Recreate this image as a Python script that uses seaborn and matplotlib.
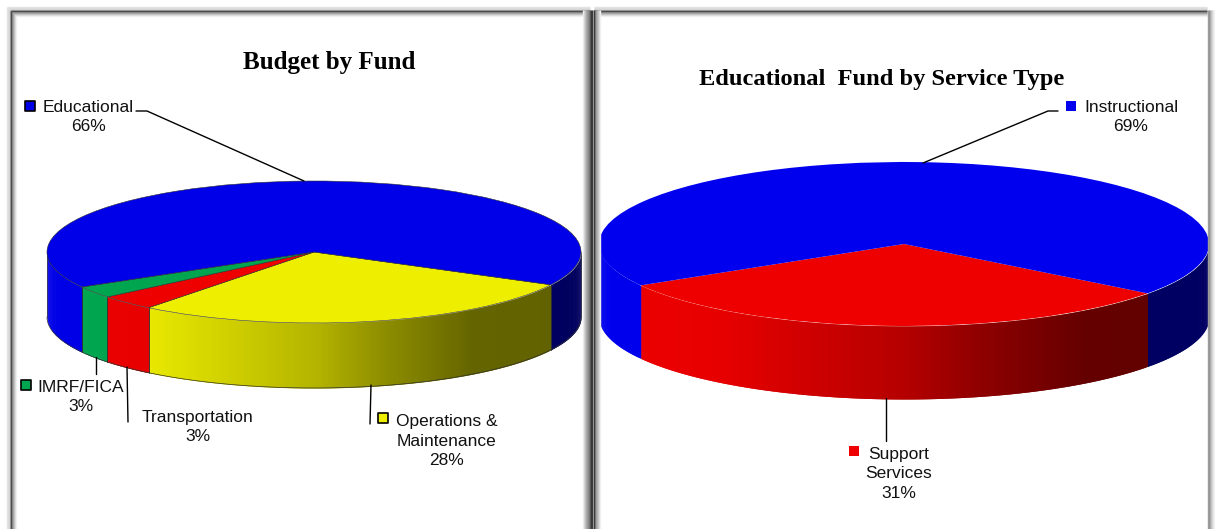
# coding = utf-8
import numpy as np
import matplotlib
matplotlib.use("Agg")
import matplotlib.pyplot as plt
import seaborn as sns

W, H = 1215, 529

fund_names = ["Operations &\nMaintenance", "Transportation", "IMRF/FICA", "Educational"]
fund_share = [28.0, 3.45, 2.7, 65.85]
fund_colors = ["#EEEE00", "#EE0000", "#00A550", "#0000E8"]

service_names = ["Support\nServices", "Instructional"]
service_share = [31.3, 68.7]
service_colors = ["#EE0000", "#0000EE"]

sns.set_theme(style="white")
plt.rcParams["font.family"] = ["Liberation Sans", "DejaVu Sans"]

fig = plt.figure(figsize=(W / 100, H / 100), dpi=100, facecolor="white")


def shade(c):
    # wall gets darker going left to right
    return np.interp(c, [-1, -0.6, 0, 0.25, 0.6, 1], [1.0, 0.97, 0.76, 0.6, 0.42, 0.41])


def pie3d(values, colors, cx, cy, rx, ry, depth, start, outline):
    ax = fig.add_axes([0, 0, 1, 1], facecolor="none")
    edge = dict(edgecolor="#303030", linewidth=0.4) if outline else dict(linewidth=0)
    wedges, _ = ax.pie(values, colors=colors, startangle=start, counterclock=False,
                       radius=1, wedgeprops=edge)
    ax.set_aspect("auto")
    ax.set_xlim(-cx / rx, (W - cx) / rx)
    ax.set_ylim(-(H - cy) / ry, cy / ry)
    d = depth / ry
    for w, col in zip(wedges, colors):
        base = np.array(matplotlib.colors.to_rgb(col))
        flat = base[1] > 0.5 and base[0] < 0.2  # green wall stays flat
        # front half of the cylinder only
        for lo, hi in [(w.theta1, w.theta2), (w.theta1 + 360, w.theta2 + 360),
                       (w.theta1 - 360, w.theta2 - 360)]:
            a1, a2 = max(lo, -180), min(hi, 0)
            if a2 <= a1:
                continue
            ang = np.radians(np.linspace(a1, a2, max(int(a2 - a1) * 2, 2) + 1))
            # strips overlap the next one so no seams show
            for i in range(len(ang) - 1, 0, -1):
                part = ang[max(i - 2, 0):i + 1]
                x = np.cos(part)
                y = np.sin(part)
                s = 1.0 if flat else shade(np.cos(ang[i - 1:i + 1]).mean())
                c = tuple(base * s)
                ax.fill_between(x, y - d, y, color=c, linewidth=0, zorder=0.5)
            if outline:
                x = np.cos(ang)
                y = np.sin(ang)
                ax.plot(x, y - d, color="#303030", lw=0.5, zorder=0.6)
                for e in (ang[0], ang[-1]):
                    ax.plot([np.cos(e)] * 2, [np.sin(e), np.sin(e) - d],
                            color="#303030", lw=0.5, zorder=0.6)
    ax.axis("off")
    return ax


pie3d(fund_share, fund_colors, 314, 252, 267, 71, 65, -27.5, True)
pie3d(service_share, service_colors, 904, 244, 305, 82, 73, -37, False)

over = fig.add_axes([0, 0, 1, 1], facecolor="none")
over.set_xlim(0, W)
over.set_ylim(H, 0)
over.axis("off")

# panel bevels, one pixel per gray step
top_steps = [(6, "#E4E4E4"), (7, "#DCDCDC"), (8, "#E0E0E0"), (9, "#A8A8A8"), (10, "#404040"),
             (11, "#808080"), (12, "#A0A0A0"), (13, "#BEBEBE"), (14, "#D8D8D8"), (15, "#F0F0F0")]
for off, g in top_steps:
    over.plot([off + 1, 590], [off + 1, off + 1], color=g, lw=1, solid_capstyle="butt")
    over.plot([off + 1, off + 1], [off + 1, H], color=g, lw=1, solid_capstyle="butt")
    over.plot([594, 1207], [off + 1, off + 1], color=g, lw=1, solid_capstyle="butt")
for x, g in [(582, "#F0F0F0"), (583, "#D8D8D8"), (584, "#C4C4C4"), (585, "#B0B0B0"), (586, "#A0A0A0"),
             (587, "#909090"), (588, "#808080"), (589, "#606060"), (590, "#404040"), (591, "#202020"),
             (592, "#B0B0B0"), (593, "#303030"), (594, "#707070"), (595, "#A0A0A0"), (596, "#B0B0B0"),
             (597, "#C4C4C4"), (598, "#D8D8D8"), (599, "#F0F0F0"),
             (1207, "#A0A0A0"), (1208, "#909090"), (1209, "#A8A8A8"), (1210, "#C0C0C0"),
             (1211, "#D4D4D4"), (1212, "#E4E4E4"), (1213, "#F0F0F0")]:
    over.plot([x + 0.5, x + 0.5], [10, H], color=g, lw=1, solid_capstyle="butt")

over.text(329, 62, "Budget by Fund", family="Liberation Serif", weight="bold",
          fontsize=18, ha="center", va="center", color="black")
over.text(882, 80, "Educational  Fund by Service Type", family="Liberation Serif", weight="bold",
          fontsize=17.6, ha="center", va="center", color="black")


def label(name, share, x, y):
    over.text(x, y, f"{name}\n{share:.0f}%", fontsize=12.5, ha="center", va="center",
              multialignment="center", linespacing=1.35, color="#111111")


label(fund_names[3], fund_share[3], 88, 117)
label(fund_names[2], fund_share[2], 81, 397)
label(fund_names[1], fund_share[1], 198, 427)
label(fund_names[0], fund_share[0], 447, 441)
label(service_names[1], service_share[1], 1131, 117)
label(service_names[0], service_share[0], 899, 474)

# leaders
for xs, ys in [([136, 147, 304], [111, 111, 181]), ([96, 96], [357, 374]), ([127, 128], [367, 422]),
               ([371, 370], [385, 424]), ([923, 1048, 1058], [163, 111, 111]), ([886, 886], [398, 441])]:
    over.plot(xs, ys, color="black", lw=1.0)

# label swatches
for x, y, col, ec in [(30, 105.5, fund_colors[3], "black"), (26, 385, fund_colors[2], "black"),
                      (383, 418, fund_colors[0], "black"), (1071, 106, service_colors[1], "none"),
                      (854, 451, service_colors[0], "none")]:
    over.scatter([x], [y], marker="s", s=42, c=col, edgecolors=ec, linewidths=1.2)

sns.despine(fig=fig, left=True, bottom=True)
fig.savefig("out.png", dpi=100)
